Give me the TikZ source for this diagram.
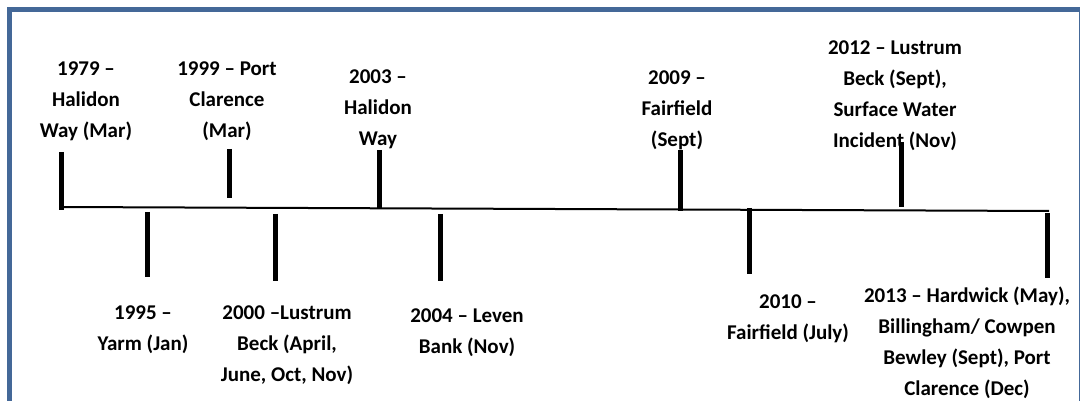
\documentclass[tikz,border=0pt]{standalone}
\usepackage{fontspec}
\setmainfont{Carlito}
\definecolor{framecol}{RGB}{68,104,152}
\tikzset{
    eventtext/.style={inner sep=0pt, align=center, anchor=north,
        font=\fontsize{21}{31}\selectfont\bfseries,
        execute at begin node=\strut},
    tickbar/.style={line width=5pt},
}
\begin{document}
\begin{tikzpicture}[x=1pt, y=-1pt]
    \useasboundingbox (0,0) rectangle (1080,401);
    \clip (0,0) rectangle (1080,401);
    % Frame
    \draw[framecol, line width=5pt] (9.5,9.5) rectangle (1081,420);

    % Time axis
    \coordinate (start) at (61,207);
    \coordinate (end) at (1049,211);
    \draw[line width=2pt] (start) -- (end);

    % Ticks above and below the axis
    \foreach \x/\a/\b in {61/152/210, 229/149/198, 379/150/208, 680/150/211, 901/142/207}
        \draw[tickbar] (\x,\a) -- (\x,\b);
    \foreach \x/\a/\b in {147/212/277, 275/214/281, 440/214/281, 749/208/274, 1047/213/278}
        \draw[tickbar] (\x,\a) -- (\x,\b);

    % Events above
    \node[eventtext] (e1979) at (86,62) {1979 –\\Halidon\\Way (Mar)};
    \node[eventtext] (e1999) at (227,62) {1999 – Port\\Clarence\\(Mar)};
    \node[eventtext] (e2003) at (378,70) {2003 –\\Halidon\\Way};
    \node[eventtext] (e2009) at (677,71) {2009 –\\Fairfield\\(Sept)};
    \node[eventtext] (e2012) at (895,41) {2012 – Lustrum\\Beck (Sept),\\Surface Water\\Incident (Nov)};

    % Events below
    \node[eventtext] (e1995) at (143,306) {1995 –\\Yarm (Jan)};
    \node[eventtext] (e2000) at (287,306) {2000 –Lustrum\\Beck (April,\\June, Oct, Nov)};
    \node[eventtext] (e2004) at (467,309) {2004 – Leven\\Bank (Nov)};
    \node[eventtext] (e2010) at (788,295) {2010 –\\Fairfield (July)};
    \node[eventtext] (e2013) at (967,287) {2013 – Hardwick (May),\\Billingham/ Cowpen\\Bewley (Sept), Port\\Clarence (Dec)};
\end{tikzpicture}
\end{document}
